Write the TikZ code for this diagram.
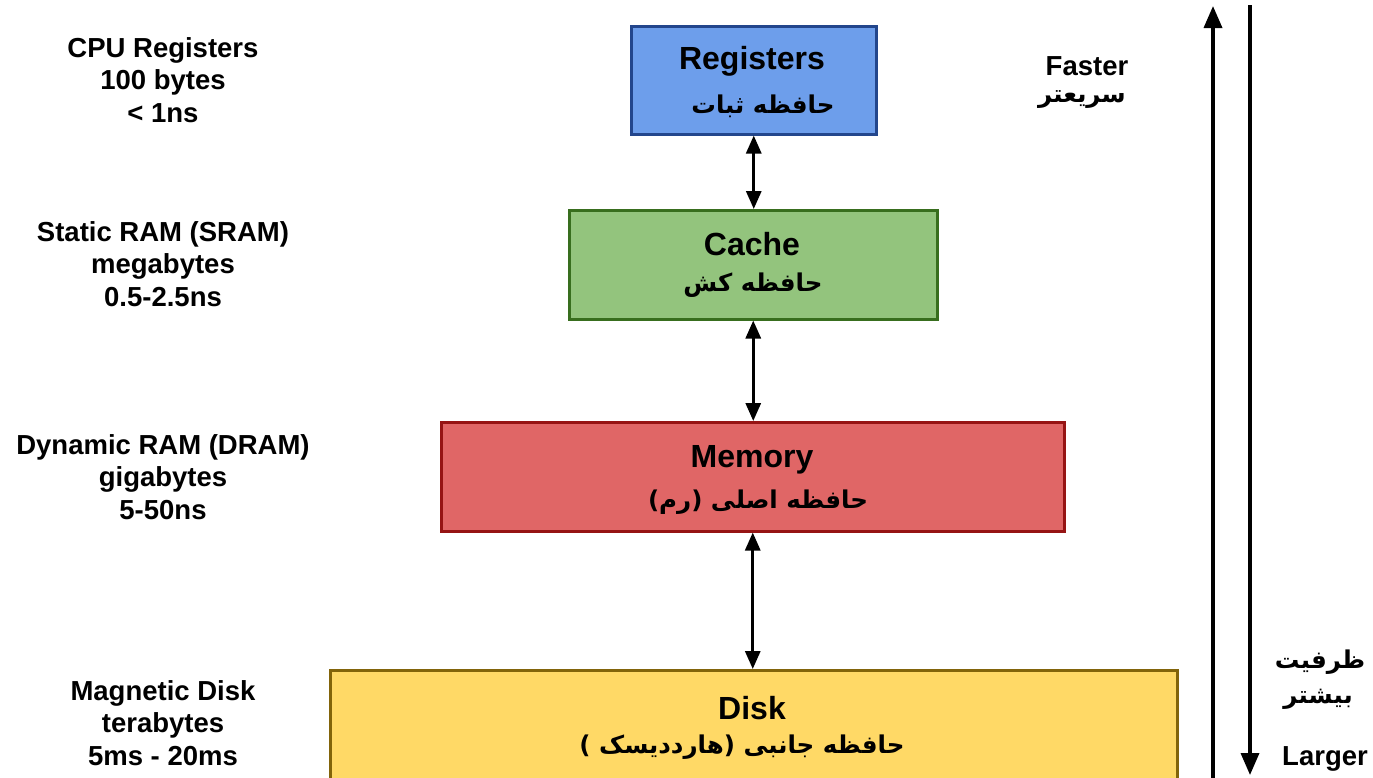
\documentclass[tikz,border=0pt]{standalone}
\usepackage{fontspec}
\setmainfont{Liberation Sans}
\newfontfamily\fa[Script=Arabic]{DejaVu Sans}
\TeXXeTstate=1
\usetikzlibrary{arrows.meta}
\definecolor{regfill}{RGB}{109,158,235}
\definecolor{regdraw}{RGB}{35,70,140}
\definecolor{cachefill}{RGB}{147,196,125}
\definecolor{cachedraw}{RGB}{56,110,30}
\definecolor{memfill}{RGB}{224,102,102}
\definecolor{memdraw}{RGB}{150,20,20}
\definecolor{diskfill}{RGB}{255,217,102}
\definecolor{diskdraw}{RGB}{130,100,10}
\begin{document}
\begin{tikzpicture}[x=1pt,y=-1pt,
  box/.style={draw, line width=2.5pt, inner sep=0pt, anchor=north west},
  ttl/.style={font=\fontsize{32}{36}\selectfont\bfseries, inner sep=0pt},
  fatxt/.style={font=\fa\bfseries\fontsize{24.5}{30}\selectfont, inner sep=0pt},
  lbl/.style={font=\fontsize{27.5}{32.5}\selectfont\bfseries, align=center, inner sep=0pt},
  side/.style={font=\fontsize{27.5}{32.5}\selectfont\bfseries, inner sep=0pt},
  link/.style={line width=3pt, {Triangle[length=18pt,width=15pt]}-{Triangle[length=18pt,width=15pt]}},
  big/.style={line width=3.5pt, -{Triangle[length=22pt,width=18pt]}}]
\useasboundingbox (0,0) rectangle (1373,777);
\fill[white] (0,0) rectangle (1373,777);
% boxes
\node[box, fill=regfill, draw=regdraw, minimum width=245pt, minimum height=108pt] (reg) at (630,25) {};
\node[box, fill=cachefill, draw=cachedraw, minimum width=368pt, minimum height=109pt] (cache) at (568,209) {};
\node[box, fill=memfill, draw=memdraw, minimum width=623pt, minimum height=109pt] (mem) at (440,421) {};
\node[box, fill=diskfill, draw=diskdraw, minimum width=847pt, minimum height=112pt] (disk) at (329,669) {};
% box texts
\node[ttl] (regT) at (752,61) {Registers};
\node[fatxt] (regF) at (763,106) {\beginR حافظه ثبات\endR};
\node[ttl] (cacheT) at (752,244) {Cache};
\node[fatxt] (cacheF) at (753,285) {\beginR حافظه کش\endR};
\node[ttl] (memT) at (752,460) {Memory};
\node[fatxt] (memF) at (758,502) {\beginR حافظه اصلی (رم)\endR};
\node[ttl] (diskT) at (752,708) {Disk};
\node[fatxt] (diskF) at (742,747) {\beginR حافظه جانبی (هارددیسک )\endR};
% connectors
\draw[link] (reg.south) -- (reg.south |- cache.north);
\draw[link] (cache.south) -- (cache.south |- mem.north);
\draw[link] (mem.south) -- (mem.south |- disk.north);
% left labels
\node[lbl] (l1) at (163,80) {CPU Registers\\100 bytes\\< 1ns};
\node[lbl] (l2) at (163,264) {Static RAM (SRAM)\\megabytes\\0.5-2.5ns};
\node[lbl] (l3) at (163,477) {Dynamic RAM (DRAM)\\gigabytes\\5-50ns};
\node[lbl] (l4) at (163,723) {Magnetic Disk\\terabytes\\5ms - 20ms};
% right side
\node[side] (fast) at (1087,66) {Faster};
\node[fatxt] (fastF) at (1082,100) {\beginR سریعتر\endR};
\node[fatxt] (largeF1) at (1320,662) {\beginR ظرفیت\endR};
\node[fatxt] (largeF2) at (1318,699) {\beginR بیشتر\endR};
\node[side] (large) at (1325,759) {Larger};
\coordinate (upS) at (1213,780);
\coordinate (upE) at (1213,6);
\coordinate (dnS) at (1250,5);
\coordinate (dnE) at (1250,775);
\draw[big] (upS) -- (upE);
\draw[big] (dnS) -- (dnE);
\end{tikzpicture}
\end{document}
